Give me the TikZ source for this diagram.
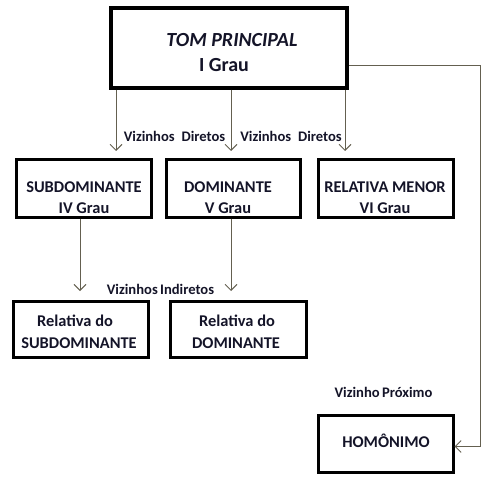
\documentclass[tikz,border=0pt]{standalone}
\usepackage{fontspec}
\setmainfont{Carlito}
\usetikzlibrary{arrows.meta}
\definecolor{linec}{RGB}{100,96,80}
\definecolor{txt}{RGB}{20,20,40}
\begin{document}
\begin{tikzpicture}[x=1pt,y=-1pt,
  box/.style={draw=black,line width=3pt,minimum width=#1,minimum height=57pt,inner sep=0pt},
  txtlab/.style={text=txt,font=\bfseries\fontsize{16.4}{16.4}\selectfont,inner sep=0pt,anchor=base},
  lab/.style={text=txt,font=\bfseries\fontsize{14.6}{14.6}\selectfont,inner sep=0pt},
  conn/.style={draw=linec,line width=0.9pt,-{Straight Barb[length=6pt,width=12pt,line width=0.9pt]}}]
\useasboundingbox (0,0) rectangle (481,478);
% boxes
\node[box=236pt,minimum height=80pt,line width=3.5pt] (top) at (229,48) {};
\node[box=135pt] (sub) at (83.5,188.5) {};
\node[box=134pt] (dom) at (233,188.5) {};
\node[box=135pt] (rel) at (385.5,188.5) {};
\node[box=135pt,minimum height=56pt] (rsub) at (80.5,329) {};
\node[box=136pt,minimum height=56pt] (rdom) at (238,329) {};
\node[box=135pt] (hom) at (385.5,443.5) {};
% texts
\node[txtlab,font=\bfseries\itshape\fontsize{20}{20}\selectfont] (t1) at (232,47) {TOM PRINCIPAL};
\node[txtlab,font=\bfseries\fontsize{20}{20}\selectfont] (t2) at (224,72) {I Grau};
\node[txtlab] (s1) at (84,192.5) {SUBDOMINANTE};
\node[txtlab] (s2) at (84,213.5) {IV Grau};
\node[txtlab] (d1) at (228,192.5) {DOMINANTE};
\node[txtlab] (d2) at (228,213.5) {V Grau};
\node[txtlab] (r1) at (385,192.5) {RELATIVA MENOR};
\node[txtlab] (r2) at (385,213.5) {VI Grau};
\node[txtlab] (rs1) at (75,326.5) {Relativa do};
\node[txtlab] (rs2) at (79,348) {SUBDOMINANTE};
\node[txtlab] (rd1) at (237,326.5) {Relativa do};
\node[txtlab] (rd2) at (236,348) {DOMINANTE};
\node[txtlab] (h1) at (386,447.5) {HOMÔNIMO};
% labels
\node[lab] (l1) at (174.5,136) {Vizinhos\hspace{3.5pt} Diretos};
\node[lab] (l2) at (291,136) {Vizinhos\hspace{3.5pt} Diretos};
\node[lab] (l3) at (160.5,289) {Vizinhos\hspace{-1pt} Indiretos};
\node[lab] (l4) at (383.5,392) {Vizinho\hspace{-1pt} Próximo};
% connectors
\coordinate (a1) at (116,151);
\coordinate (a2) at (231,151);
\coordinate (a3) at (345,151);
\coordinate (b1) at (80,291);
\coordinate (b2) at (231,291);
\coordinate (c1) at (480,65);
\draw[conn] (top.south -| a1) -- (a1);
\draw[conn] (top.south -| a2) -- (a2);
\draw[conn] (top.south -| a3) -- (a3);
\draw[conn] (sub.south -| b1) -- (b1);
\draw[conn] (dom.south -| b2) -- (b2);
\draw[conn] (c1 -| top.east) -- (c1) |- ([yshift=-3pt]hom.east);
\end{tikzpicture}
\end{document}
